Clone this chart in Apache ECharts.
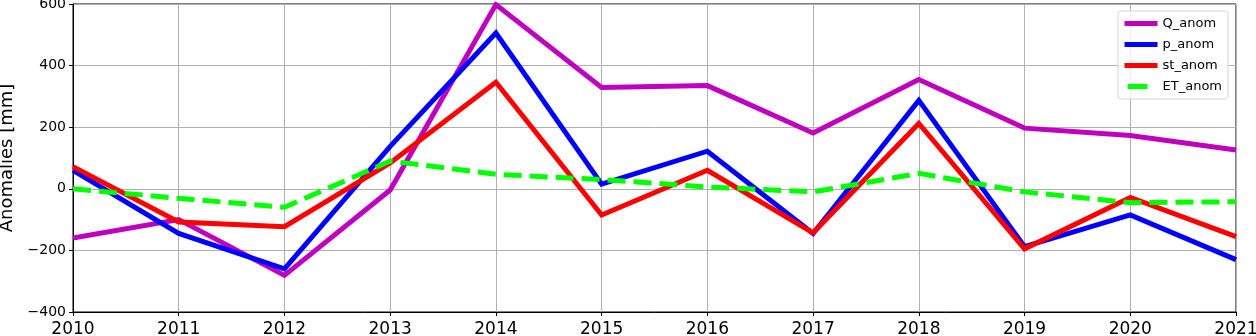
<!DOCTYPE html>
<html>
<head>
<meta charset="utf-8">
<script src="https://cdn.jsdelivr.net/npm/echarts@6/dist/echarts.min.js"></script>
<style>
  html, body { margin: 0; padding: 0; background: #fff; }
  #chart { width: 1256px; height: 336px; }
</style>
</head>
<body>
<div id="chart"></div>
<script>
var years = [2010, 2011, 2012, 2013, 2014, 2015, 2016, 2017, 2018, 2019, 2020, 2021];
var qAnom  = [-160, -100, -281, -4, 598, 329, 335, 181, 355, 197, 173, 126];
var pAnom  = [60, -145, -260, 138, 506, 15, 122, -145, 287, -188, -85, -230];
var stAnom = [72, -108, -123, 84, 346, -85, 60, -143, 212, -195, -28, -155];
var etAnom = [0, -31, -60, 90, 47, 30, 6, -10, 50, -10, -45, -42];
var yTicks = [-400, -200, 0, 200, 400, 600];

function pairs(vals) {
	return years.map(function (y, i) { return [y, vals[i]]; });
}

var FONT = 'DejaVu Sans';

function lineSeries(name, vals, color, dash) {
	return {
		name: name,
		type: 'line',
		data: pairs(vals),
		symbol: 'none',
		lineStyle: { color: color, width: 5, type: dash || 'solid', cap: 'butt', join: 'miter' },
		itemStyle: { color: color },
		emphasis: { disabled: true },
		animation: false
	};
}

var myChart = echarts.init(document.getElementById('chart'));

var option = {
	animation: false,
	grid: {
		left: 73,
		right: 20,
		top: 4,
		bottom: 24,
		outerBoundsMode: 'none',
		containLabel: false,
		show: true,
		borderColor: '#000',
		borderWidth: 1
	},
	legend: {
		right: 28,
		top: 11,
		orient: 'vertical',
		itemWidth: 33,
		itemHeight: 5,
		itemGap: 8,
		padding: [6, 6, 6, 4],
		backgroundColor: 'rgba(255,255,255,0.8)',
		borderColor: '#d5d5d5',
		borderWidth: 1,
		borderRadius: 3,
		textStyle: { fontFamily: FONT, fontSize: 13, color: '#000' },
		lineStyle: { width: 5 },
		data: [
			{ name: 'Q_anom' },
			{ name: 'p_anom' },
			{ name: 'st_anom' },
			{ name: 'ET_anom', lineStyle: { type: [20, 40], dashOffset: -3 } }
		]
	},
	xAxis: {
		type: 'value',
		min: 2010,
		max: 2021,
		interval: 1,
		axisLine: { show: true, onZero: false, lineStyle: { color: '#000', width: 1 } },
		axisTick: { show: true, length: 4, lineStyle: { color: '#000' } },
		axisLabel: {
			fontFamily: FONT, fontSize: 17, color: '#000', margin: 9,
			formatter: function (v) { return String(v); }
		},
		splitLine: { show: true, lineStyle: { color: '#b0b0b0', width: 1 } }
	},
	yAxis: {
		type: 'value',
		min: yTicks[0],
		max: yTicks[yTicks.length - 1],
		interval: 200,
		name: 'Anomalies [mm]',
		nameLocation: 'middle',
		nameGap: 51,
		nameTextStyle: { fontFamily: FONT, fontSize: 18, color: '#000' },
		axisLine: { show: true, onZero: false, lineStyle: { color: '#000', width: 1 } },
		axisTick: { show: true, length: 4, lineStyle: { color: '#000' } },
		axisLabel: {
			fontFamily: FONT, fontSize: 14, color: '#000', margin: 7,
			formatter: function (v) { return v < 0 ? '\u2212' + Math.abs(v) : String(v); }
		},
		splitLine: { show: true, lineStyle: { color: '#b0b0b0', width: 1 } }
	},
	series: [
		lineSeries('Q_anom', qAnom, '#bf00bf'),
		lineSeries('p_anom', pAnom, '#0000ff'),
		lineSeries('st_anom', stAnom, '#ff0000'),
		lineSeries('ET_anom', etAnom, '#00ff00', [18, 8])
	]
};

myChart.setOption(option);
</script>
</body>
</html>
